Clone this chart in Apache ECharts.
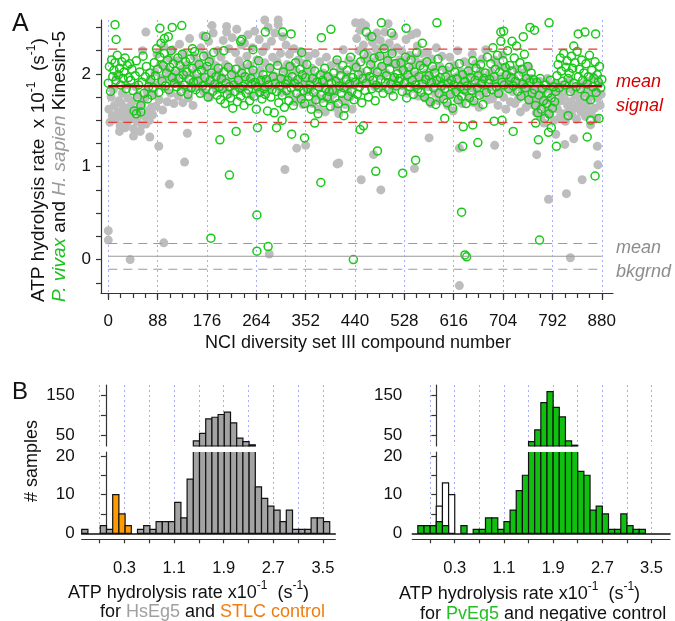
<!DOCTYPE html>
<html><head><meta charset="utf-8">
<script src="https://cdn.jsdelivr.net/npm/echarts@6/dist/echarts.min.js"></script>
<style>html,body{margin:0;padding:0;background:#fff}#c{width:675px;height:621px}</style>
</head><body><div id="c"></div>
<script>
const FONT = '"Liberation Sans", Arial, Helvetica, sans-serif';

// ---------- Panel A : screening scatter ----------
// P. vivax Kinesin-5 (green open circles), one value per even compound number 0,2,4,...880
const pvBand = [
1.90,2.08,1.81,2.15,1.97,2.04,2.12,1.93,2.20,1.99,2.06,1.88,2.13,1.95,2.02,2.17,1.84,2.09,1.96,2.11,
1.93,2.05,1.82,1.60,1.98,2.14,1.75,1.88,2.02,1.66,1.91,2.19,1.79,1.97,2.08,1.73,1.86,2.01,1.94,1.77,
1.85,2.12,1.98,2.27,2.05,1.80,2.18,2.33,1.92,2.09,2.22,1.87,2.01,2.15,1.83,2.07,2.25,1.96,2.11,1.90,
2.03,1.86,2.17,1.95,2.09,1.81,2.21,1.99,1.88,2.13,2.02,1.78,1.94,2.16,1.85,2.06,1.91,2.24,1.83,2.00,
1.92,2.10,1.79,2.04,1.87,2.19,1.96,1.84,2.08,1.75,2.13,1.93,2.01,1.81,2.23,1.89,1.97,1.77,2.06,1.86,
1.72,1.95,1.84,2.02,1.68,1.90,1.78,2.07,1.86,1.74,1.99,1.63,1.88,1.81,2.05,1.70,1.93,1.85,1.76,2.01,
1.87,1.66,1.97,1.79,2.10,1.83,1.71,1.95,1.89,2.04,1.76,1.91,1.62,1.86,2.14,1.80,1.93,1.73,1.99,1.84,
1.78,1.94,1.60,1.88,2.06,1.75,1.83,1.97,1.58,1.90,1.81,2.09,1.69,1.87,1.95,1.77,2.02,1.64,1.89,1.82,
1.93,1.71,2.08,1.85,1.97,1.66,1.90,2.12,1.79,1.94,1.86,2.05,1.73,1.99,1.82,1.68,1.96,2.10,1.84,1.76,
1.88,1.62,1.95,1.80,2.03,1.72,1.91,1.57,1.86,1.99,1.77,1.93,1.69,2.06,1.84,1.75,1.97,1.81,1.65,1.90,
1.83,2.01,1.74,1.92,2.15,1.68,1.87,1.98,1.79,2.09,1.85,1.63,1.94,2.04,1.76,1.89,2.18,1.81,1.96,1.72,
1.91,2.07,1.78,1.99,1.86,2.13,1.69,1.95,2.21,1.82,1.90,2.03,1.75,1.97,2.10,1.84,1.93,2.17,1.71,1.88,
2.02,1.85,2.19,1.94,2.08,1.79,2.27,1.91,1.98,2.14,1.83,2.05,1.89,2.22,1.76,1.96,2.11,1.87,2.00,1.92,
1.95,2.12,1.81,2.04,1.90,2.18,1.74,1.99,2.07,1.86,2.15,1.93,1.78,2.02,1.88,2.23,1.84,1.97,2.09,1.80,
1.89,2.06,1.75,1.94,2.13,1.82,1.98,1.70,1.91,2.08,1.85,2.01,1.67,1.93,2.16,1.79,1.96,1.87,2.04,1.73,
1.84,1.97,1.69,1.90,2.07,1.78,1.93,1.63,1.88,2.02,1.81,1.95,1.72,2.11,1.86,1.76,1.99,1.83,1.92,1.68,
1.87,2.03,1.74,1.96,1.82,2.14,1.71,1.93,2.06,1.85,1.98,1.77,2.10,1.89,1.67,1.95,2.01,1.80,2.18,1.90,
1.94,2.11,1.83,2.28,1.97,2.05,1.86,2.20,1.79,2.02,2.35,1.91,2.14,1.88,2.07,1.99,2.25,1.84,2.09,1.96,
2.03,1.87,2.17,1.92,2.30,1.81,1.98,2.12,1.76,2.05,1.89,2.21,1.85,1.95,2.08,1.72,1.91,2.01,1.79,1.94,
1.83,1.66,1.91,1.58,1.77,1.95,1.62,1.84,1.71,1.52,1.88,1.68,1.79,1.57,1.93,1.74,1.63,1.86,1.70,1.81,
1.98,2.10,1.85,2.17,2.03,1.92,2.22,1.88,2.07,2.14,1.95,2.01,1.81,2.19,2.06,1.90,2.12,1.86,2.24,1.97,
2.05,1.84,2.15,1.93,2.01,1.76,2.11,1.89,1.97,2.20,1.72,2.04,1.86,1.95,2.13,1.80,1.99,1.91,2.08,1.85,
1.94];
// P. vivax outlying compounds [compound number, rate]
const pvExtra = [
[12,2.53],[14,2.37],[92,2.49],[114,2.50],[131,2.52],[174,2.40],[199,1.29],[216,0.91],[228,1.38],[266,1.42],
[265,0.48],[265,0.09],[285,0.14],[183,0.23],[280,2.45],[311,2.45],[326,2.43],[327,1.35],[350,1.31],[379,0.83],
[368,1.47],[380,2.39],[397,2.48],[238,2.37],[487,2.55],[586,2.55],[531,2.49],[786,2.55],[752,2.50],[869,2.43],
[838,2.43],[437,0.00],[449,1.40],[480,1.17],[477,0.95],[548,1.07],[525,0.93],[630,0.51],[636,0.05],[639,0.03],
[632,1.22],[633,1.43],[659,1.26],[722,1.38],[769,0.21],[868,0.90],[854,1.32],[799,1.22],[767,1.29],[785,1.37],
[688,1.49],[345,2.23],[100,2.38],[107,2.40],[150,2.27],[206,2.25],[258,2.26],[236,2.35],[50,1.57],[58,1.59],
[300,1.42],[310,1.50],[460,2.45],[470,2.40],[505,2.44],[560,2.33],[700,2.45],[705,2.46],[720,2.35],[740,2.40],
[760,2.47],[850,2.45],[830,2.30],[420,1.55],[455,1.44],[600,1.52],[650,1.45],[702,1.50],[762,1.47],[790,1.42],
[820,1.55],[860,1.50],[875,1.52]];
// H. sapien Kinesin-5 (grey dots), one value per odd compound number 1,3,5,...879
const hsBand = [
1.62,1.48,1.75,1.55,1.83,1.66,1.51,1.97,1.59,1.71,1.44,1.68,1.79,1.53,1.63,1.88,1.47,1.74,1.57,1.65,
1.52,1.70,1.41,1.61,1.86,1.49,1.77,1.58,1.38,1.67,2.25,1.55,1.73,1.46,1.81,1.60,1.50,1.92,1.64,1.56,
1.78,2.02,1.65,2.21,1.88,1.72,2.10,1.95,1.61,2.30,1.84,2.05,1.70,1.97,2.17,1.79,1.91,2.26,1.68,2.00,
1.93,2.14,1.76,2.32,1.87,2.05,1.69,2.22,1.98,1.82,2.10,1.74,2.38,1.90,2.01,1.66,2.19,1.85,2.08,1.95,
2.12,1.86,2.28,1.97,2.41,1.80,2.06,2.20,1.91,2.35,1.75,2.15,1.99,2.44,1.88,2.09,1.83,2.25,2.02,1.94,
2.18,1.96,2.36,1.84,2.10,2.45,1.92,2.27,1.79,2.05,2.39,2.00,1.87,2.23,2.48,1.95,2.14,1.82,2.31,2.07,
1.98,2.33,1.86,2.19,2.42,1.93,2.09,1.77,2.28,2.01,2.46,1.90,2.15,1.84,2.37,2.04,1.95,2.24,1.81,2.12,
2.29,1.94,2.50,2.07,1.85,2.35,2.18,1.98,2.44,1.89,2.13,2.53,1.96,2.22,1.80,2.40,2.05,1.92,2.31,2.10,
1.99,2.21,1.78,2.08,1.92,2.27,1.70,2.03,1.86,2.15,1.75,2.24,1.95,1.67,2.11,1.88,2.02,1.81,2.19,1.93,
1.84,2.06,1.68,1.97,2.22,1.76,1.90,1.62,2.13,1.87,1.73,2.01,1.93,1.59,2.18,1.80,1.96,1.71,2.09,1.85,
1.78,1.95,1.64,2.12,1.83,1.57,2.04,1.91,1.72,2.26,1.86,1.67,1.99,1.81,2.15,1.75,1.92,1.62,2.07,1.88,
2.10,2.38,1.94,2.25,2.47,2.02,1.89,2.31,2.16,2.52,1.97,2.21,2.40,1.92,2.13,2.34,2.05,1.86,2.27,2.44,
2.19,1.98,2.36,2.08,1.85,2.29,2.45,2.01,2.17,1.91,2.33,2.12,1.82,2.24,2.41,1.96,2.10,2.28,1.88,2.15,
2.06,2.25,1.87,2.14,1.97,2.37,1.79,2.03,2.20,1.92,2.42,2.09,1.84,2.17,1.99,2.30,1.76,2.11,1.94,2.22,
1.93,2.12,1.74,2.01,2.23,1.86,1.97,1.68,2.16,1.89,2.05,1.79,2.28,1.95,1.71,2.08,1.84,2.19,1.90,1.77,
1.88,2.04,1.66,1.95,2.18,1.79,1.91,1.60,2.09,1.83,1.97,2.25,1.73,1.86,2.02,1.68,1.94,2.13,1.81,1.99,
1.90,1.75,2.07,1.85,2.21,1.69,1.97,2.11,1.80,1.93,1.64,2.03,1.88,2.16,1.77,1.96,2.26,1.83,1.72,2.00,
1.86,2.02,1.73,1.94,2.15,1.78,1.89,1.66,2.08,1.83,1.97,2.20,1.75,1.91,1.62,2.05,1.85,1.98,1.70,1.92,
1.81,1.96,1.68,1.88,2.05,1.73,1.90,1.59,1.84,2.01,1.77,1.93,1.64,1.86,2.08,1.71,1.95,1.80,1.67,1.89,
1.74,1.58,1.85,1.66,1.92,1.53,1.78,1.69,1.47,1.83,1.61,1.95,1.72,1.56,1.87,1.64,1.79,1.50,1.90,1.68,
1.62,1.80,1.53,1.71,1.88,1.57,1.75,1.49,1.84,1.66,1.59,1.93,1.70,1.55,1.82,1.63,1.77,1.51,1.86,1.68,
1.73,1.59,1.88,1.65,1.79,1.54,1.92,1.70,1.61,1.84,1.57,1.76,1.97,1.63,1.81,1.52,1.74,1.89,1.66,1.78];
// H. sapien outlying compounds [compound number, rate]
const hsExtra = [
[0,0.31],[0,0.21],[39,0.00],[99,0.18],[287,0.06],[109,0.81],[136,1.05],[315,0.97],[141,1.36],[90,1.22],
[74,1.32],[336,1.20],[352,1.23],[408,1.03],[67,2.45],[185,2.52],[211,2.51],[279,2.58],[303,2.58],[626,-0.28],
[824,0.02],[411,1.04],[451,0.86],[486,0.75],[473,1.13],[546,0.98],[689,1.23],[572,1.31],[764,1.13],[785,0.65],
[817,0.71],[845,0.86],[814,1.24],[626,1.20],[441,2.55],[452,2.55],[499,2.54],[550,2.44],[20,1.38],[30,1.42],
[45,1.33],[60,1.45],[25,1.55],[798,1.35],[830,1.30],[860,1.45],[872,1.22],[873,1.02]];
// reference levels (x10^-1 s^-1) drawn from compound 0 to 880
const refSpan = [0, 880];
const signalDashed = [2.266, 1.478];
const signalMean = [1.867];
const bkgDashed = [0.173, -0.104];
const bkgMean = [0.036];
const compoundTicks = [0,88,176,264,352,440,528,616,704,792,880];
const compoundMinorTicks = [0,22,44,66,88,110,132,154,176,198,220,242,264,286,308,330,352,374,396,418,440,462,484,506,528,550,572,594,616,638,660,682,704,726,748,770,792,814,836,858,880];
const rateTicksA = [-0.25,0,0.25,0.5,0.75,1,1.25,1.5,1.75,2,2.25,2.5];
const rateLabelsA = [0,1,2];

// ---------- Panel B : histograms (bin start, count), bin width 0.1 ----------
const BIN = 0.1;
const hsBinStarts = [-0.39,-0.29,-0.19,-0.09,0.01,0.11,0.21,0.31,0.41,0.51,0.61,0.71,0.81,0.91,1.01,1.11,1.21,1.31,1.41,1.51,1.61,1.71,1.81,1.91,2.01,2.11,2.21,2.31,2.41,2.51,2.61,2.71,2.81,2.91,3.01,3.11,3.21,3.31,3.41,3.51];
const hsCounts    = [1,0,0,2,1,0,0,0,0,1,2,1,3,3,3,8,4,14,35,54,91,95,102,108,81,42,33,25,12,9,7,6,3,6,1,1,1,4,4,3];
const stlcBinStarts = [0.11,0.21,0.31];
const stlcCounts    = [10,5,2];
const pvBinStarts = [-0.3,-0.2,-0.1,0.0,0.1,0.2,0.3,0.4,0.5,0.6,0.7,0.8,0.9,1.0,1.1,1.2,1.3,1.4,1.5,1.6,1.7,1.8,1.9,2.0,2.1,2.2,2.3,2.4,2.5,2.6,2.7,2.8,2.9,3.0,3.1,3.2,3.3];
const pvCounts    = [2,2,2,3,2,0,0,2,0,1,1,4,4,1,3,6,11,15,33,63,132,160,120,96,35,24,16,15,6,7,5,1,1,5,2,1,1];
const negBinStarts = [0.0,0.1,0.2];
const negCounts    = [7,13,10];
const rateTicksB  = [-0.1,0.3,0.7,1.1,1.5,1.9,2.3,2.7,3.1,3.5];
const rateLabelsB = [0.3,1.1,1.9,2.7,3.5];
const countTicksLow = [0,5,10,15,20], countLabelsLow = [0,10,20];
const countTicksHigh = [50,100,150], countLabelsHigh = [50,150];
const LOW_MAX = 21, HIGH_MIN = 22, HIGH_MAX = 177;

// ---------- styles ----------
const AX = '#333';
const DOT = {color:'#a9aefc', type:[2,3], width:1};
const GREEN = '#18c818', GREY = '#bdbdbd';

function histSeries(xi, yi, starts, counts, fill, part, z) {
  return {
    type:'custom', xAxisIndex:xi, yAxisIndex:yi, z:z, silent:true,
    data: starts.map((s,i)=>[s, counts[i]]),
    renderItem: function(params, api){
      const s = api.value(0), c = api.value(1);
      let lo, hi, cut = false;
      if (part === 'upper') { if (c <= HIGH_MIN) return null; lo = HIGH_MIN; hi = c; }
      else { if (c <= 0) return null; lo = 0; hi = Math.min(c, LOW_MAX); cut = c > LOW_MAX; }
      const a = api.coord([s, lo]), b = api.coord([s + BIN, hi]);
      const x = a[0], y = b[1], w = b[0]-a[0], h = a[1]-b[1];
      if (!cut) return {type:'rect', shape:{x:x,y:y,width:w,height:h}, style:{fill:fill, stroke:'#111', lineWidth:1.2}};
      return {type:'group', children:[
        {type:'rect', shape:{x:x,y:y,width:w,height:h}, style:{fill:fill, stroke:null}},
        {type:'polyline', shape:{points:[[x,y],[x,a[1]],[x+w,a[1]],[x+w,y]]}, style:{fill:null, stroke:'#111', lineWidth:1.2}}
      ]};
    }
  };
}
function levelSeries(levels, color, width, type, z) {
  return levels.map(v => ({
    type:'line', xAxisIndex:0, yAxisIndex:0, z:z, silent:true, showSymbol:false, symbol:'none',
    data: refSpan.map(x => [x, v]),
    lineStyle:{color:color, width:width, type:type}
  }));
}
function xLow(gi, min, max) {
  return [
    {gridIndex:gi, type:'value', min:min, max:max, position:'bottom',
     axisLine:{show:true, onZero:false, lineStyle:{color:'#111', width:1.6}}, axisTick:{show:false}, axisLabel:{show:false}, splitLine:{show:false}},
    {gridIndex:gi, type:'value', min:min, max:max, position:'bottom', offset:6,
     axisLine:{show:true, onZero:false, lineStyle:{color:AX, width:1.2}},
     axisTick:{show:true, customValues:rateTicksB, length:4, lineStyle:{color:AX, width:1.2}},
     axisLabel:{customValues:rateLabelsB, margin:21, fontSize:16.5, color:'#111', fontFamily:FONT, formatter:v=>v.toFixed(1)},
     splitLine:{show:true, lineStyle:DOT}}
  ];
}
function xHigh(gi, min, max) {
  return {gridIndex:gi, type:'value', min:min, max:max, position:'bottom',
    axisLine:{show:false, onZero:false}, axisTick:{show:false, customValues:rateTicksB}, axisLabel:{show:false},
    splitLine:{show:true, lineStyle:DOT}};
}
function yCount(gi, min, max, ticks, labels, margin) {
  return {gridIndex:gi, type:'value', min:min, max:max,
    axisLine:{show:true, lineStyle:{color:AX, width:1.2}},
    axisTick:{show:true, customValues:ticks, length:5, lineStyle:{color:AX, width:1.2}},
    axisLabel:{customValues:labels, margin:margin, fontSize:17, color:'#111', fontFamily:FONT},
    splitLine:{show:false}};
}

const sup = {fontSize:12, lineHeight:10, verticalAlign:'top', fontFamily:FONT, fill:'#111'};
function nrm(size){ return {fontSize:size, lineHeight:22, verticalAlign:'bottom', fontFamily:FONT, fill:'#111'}; }
function txt(x, y, text, rich, extra) {
  return Object.assign({type:'text', x:x, y:y, silent:true,
    style:{text:text, rich:rich, align:'left', verticalAlign:'middle', textAlign:'left', textVerticalAlign:'middle'}}, extra||{});
}

const chart = echarts.init(document.getElementById('c'));
const option = {
  animation:false, backgroundColor:'#fff',
  grid:[
    {left:101, top:20, width:512, height:273},
    {left:81.7, top:385, width:253.6, height:61},
    {left:81.7, top:452, width:253.6, height:81.3},
    {left:412.3, top:385, width:257.7, height:61},
    {left:412.3, top:452, width:257.7, height:81.3}
  ],
  xAxis:[
    {gridIndex:0, type:'value', min:-13, max:900, position:'bottom',
     axisLine:{onZero:false, lineStyle:{color:AX, width:1.2}},
     axisTick:{customValues:compoundTicks, length:7, lineStyle:{color:AX, width:1.2}},
     axisLabel:{customValues:compoundTicks, margin:20, fontSize:17, color:'#111', fontFamily:FONT},
     splitLine:{show:true, lineStyle:DOT}},
    {gridIndex:0, type:'value', min:-13, max:900, position:'bottom',
     axisLine:{show:false, onZero:false}, axisTick:{customValues:compoundMinorTicks, length:5, lineStyle:{color:AX, width:1.2}},
     axisLabel:{show:false}, splitLine:{show:false}},
    xHigh(1, -0.39, 3.7),
    ...xLow(2, -0.39, 3.7),
    xHigh(3, -0.39, 3.8),
    ...xLow(4, -0.39, 3.8)
  ],
  yAxis:[
    {gridIndex:0, type:'value', min:-0.36, max:2.58,
     axisLine:{show:true, onZero:false, lineStyle:{color:AX, width:1.2}},
     axisTick:{show:true, customValues:rateTicksA, length:5, lineStyle:{color:AX, width:1.2}},
     axisLabel:{customValues:rateLabelsA, margin:10, fontSize:17, color:'#111', fontFamily:FONT},
     splitLine:{show:false}},
    yCount(1, HIGH_MIN, HIGH_MAX, countTicksHigh, countLabelsHigh, 7),
    yCount(2, 0, LOW_MAX, countTicksLow, countLabelsLow, 7),
    yCount(3, HIGH_MIN, HIGH_MAX, countTicksHigh, countLabelsHigh, 10),
    yCount(4, 0, LOW_MAX, countTicksLow, countLabelsLow, 10)
  ],
  series:[
    {type:'scatter', xAxisIndex:0, yAxisIndex:0, z:2, silent:true, symbolSize:9,
     data: hsBand.map((v,i)=>[2*i+1, v]).concat(hsExtra),
     itemStyle:{color:GREY, opacity:1}},
    {type:'scatter', xAxisIndex:0, yAxisIndex:0, z:3, silent:true, symbolSize:8,
     data: pvBand.map((v,i)=>[2*i, v]).concat(pvExtra),
     itemStyle:{color:'rgba(255,255,255,0)', borderColor:GREEN, borderWidth:1.5, opacity:1}},
    ...levelSeries(bkgDashed, '#9a9a9a', 1.2, [9,6], 4),
    ...levelSeries(bkgMean, '#9a9a9a', 1.2, 'solid', 4),
    ...levelSeries(signalDashed, '#e33b36', 1.2, [9,6], 4),
    ...levelSeries(signalMean, '#a80000', 2.2, 'solid', 5),
    histSeries(2, 1, hsBinStarts, hsCounts, '#a3a3a3', 'upper', 2),
    histSeries(3, 2, hsBinStarts, hsCounts, '#a3a3a3', 'lower', 2),
    histSeries(3, 2, stlcBinStarts, stlcCounts, '#ff9a00', 'lower', 3),
    histSeries(5, 3, pvBinStarts, pvCounts, '#10c010', 'upper', 3),
    histSeries(6, 4, negBinStarts, negCounts, '#ffffff', 'lower', 2),
    histSeries(6, 4, pvBinStarts, pvCounts, '#10c010', 'lower', 3)
  ],
  graphic:[
    txt(12, 24, '{n|A}', {n:{fontSize:25, fontFamily:FONT, fill:'#111'}}),
    txt(12, 392, '{n|B}', {n:{fontSize:24, fontFamily:FONT, fill:'#111'}}),
    txt(616, 82, '{r|mean}', {r:{fontSize:18, fontStyle:'italic', fontFamily:FONT, fill:'#d40000'}}),
    txt(616, 106, '{r|signal}', {r:{fontSize:18, fontStyle:'italic', fontFamily:FONT, fill:'#d40000'}}),
    txt(616, 248, '{g|mean}', {g:{fontSize:18, fontStyle:'italic', fontFamily:FONT, fill:'#8c8c8c'}}),
    txt(616, 272, '{g|bkgrnd}', {g:{fontSize:18, fontStyle:'italic', fontFamily:FONT, fill:'#8c8c8c'}}),
    txt(37, 302, '{n|ATP hydrolysis rate  x 10}{s|-1}{n|  (s}{s|-1}{n|)}', {n:nrm(19), s:sup}, {rotation:Math.PI/2}),
    txt(58, 302, '{g|P. vivax}{n| and }{h|H. sapien}{n| Kinesin-5}',
        {n:nrm(19), g:Object.assign(nrm(19), {fontStyle:'italic', fill:'#1fbf1f'}), h:Object.assign(nrm(19), {fontStyle:'italic', fill:'#9a9a9a'})},
        {rotation:Math.PI/2}),
    txt(358, 341, '{n|NCI diversity set III compound number}', {n:nrm(18)}),
    txt(30, 461, '{n|# samples}', {n:nrm(18)}, {rotation:Math.PI/2}),
    txt(68, 591, '{n|ATP hydrolysis rate x10}{s|-1}{n|  (s}{s|-1}{n|)}', {n:nrm(18), s:sup}),
    txt(100, 610, '{n|for }{h|HsEg5}{n| and }{o|STLC control}',
        {n:nrm(18), h:Object.assign(nrm(18), {fill:'#a0a0a0'}), o:Object.assign(nrm(18), {fill:'#f07d10'})}),
    txt(399, 592, '{n|ATP hydrolysis rate x10}{s|-1}{n|  (s}{s|-1}{n|)}', {n:nrm(18), s:sup}),
    txt(420, 612, '{n|for }{g|PvEg5}{n| and negative control}',
        {n:nrm(18), g:Object.assign(nrm(18), {fill:'#22c022'})})
  ]
};
option.graphic[8].style.align = 'center'; option.graphic[8].style.textAlign = 'center';
option.graphic[9].style.align = 'center'; option.graphic[9].style.textAlign = 'center';
chart.setOption(option);
</script></body></html>
